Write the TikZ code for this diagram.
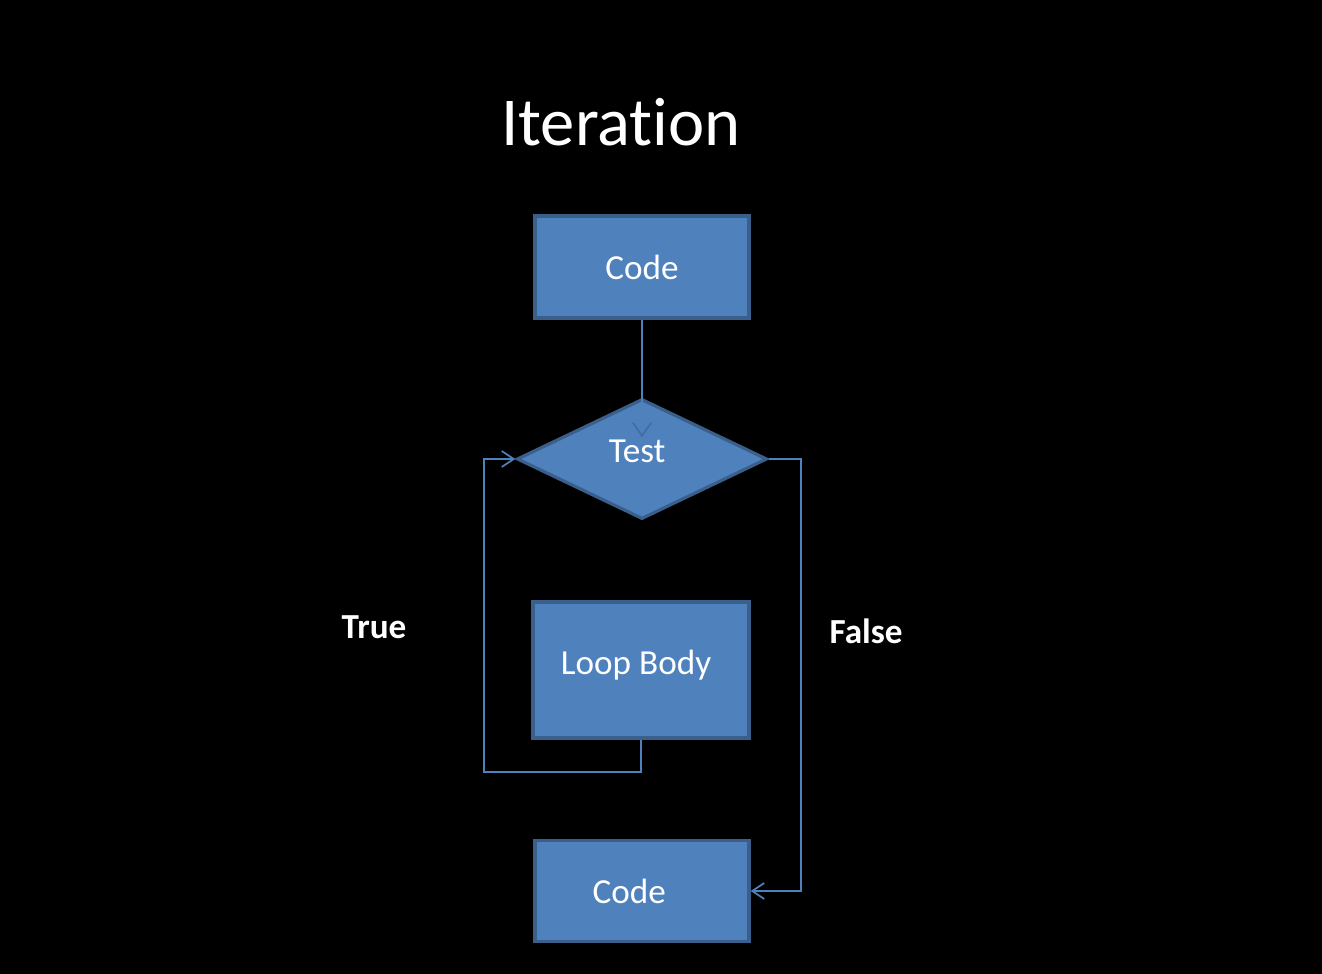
\documentclass[tikz,border=0pt]{standalone}
\usepackage{fontspec}
\setmainfont{Carlito}[Ligatures=NoCommon]
\usetikzlibrary{shapes.geometric, arrows.meta, positioning}
\definecolor{boxfill}{HTML}{4F81BD}
\definecolor{boxline}{HTML}{3A5F8B}

\begin{document}
\begin{tikzpicture}[x=0.01cm, y=-0.01cm, >={Straight Barb[length=1.2mm, width=1.6mm]}]
    \tikzset{
        block/.style={rectangle, draw=boxline, fill=boxfill, line width=0.9pt, text=white, font=\fontsize{10}{12}\selectfont},
        decision/.style={diamond, aspect=2.08, inner sep=0pt, draw=boxline, fill=boxfill, line width=0.9pt, text=white, font=\fontsize{10}{12}\selectfont},
        flow/.style={draw=boxfill, line width=0.5pt},
        branch/.style={text=white, font=\bfseries\fontsize{10}{12}\selectfont}
    }
    \newcommand{\nudge}[3]{\kern#1\raisebox{#2}[\height][\depth]{#3}\kern-#1}
    \fill[black] (0,0) rectangle (1322,974);
    \useasboundingbox (0,0) rectangle (1322,974);

    \node[text=white, font=\fontsize{19.5}{24}\selectfont] (title) at (621,122) {Iteration};

    \node[block, minimum width=2.14cm, minimum height=1.02cm] (code1) at (642,267) {Code};
    \node[decision, minimum width=2.5cm, minimum height=1.2cm] (test) at (642,459) {\nudge{-1.4pt}{2.3pt}{Test}};
    \node[block, minimum width=2.16cm, minimum height=1.36cm] (body) at (641,670) {\nudge{-1.4pt}{1.3pt}{Loop Body}};
    \node[block, minimum width=2.14cm, minimum height=1.01cm] (code2) at (642,891) {\nudge{-3.6pt}{0pt}{Code}};

    \node[branch] (truelabel) at (374,627) {True};
    \node[branch] (falselabel) at (866,631) {False};

    \coordinate (loopturn) at (484,772);
    \coordinate (falseturn) at (801,459);

    \draw[flow, -{Straight Barb[length=1.3mm, width=1.8mm, color=boxline!60!boxfill]}, shorten >=-0.4cm] (code1.south) -- (test.north);
    \draw[flow, ->] (body.south) |- (loopturn) |- (test.west);
    \draw[flow, ->] (test.east) -- (falseturn) |- (code2.east);
\end{tikzpicture}
\end{document}
